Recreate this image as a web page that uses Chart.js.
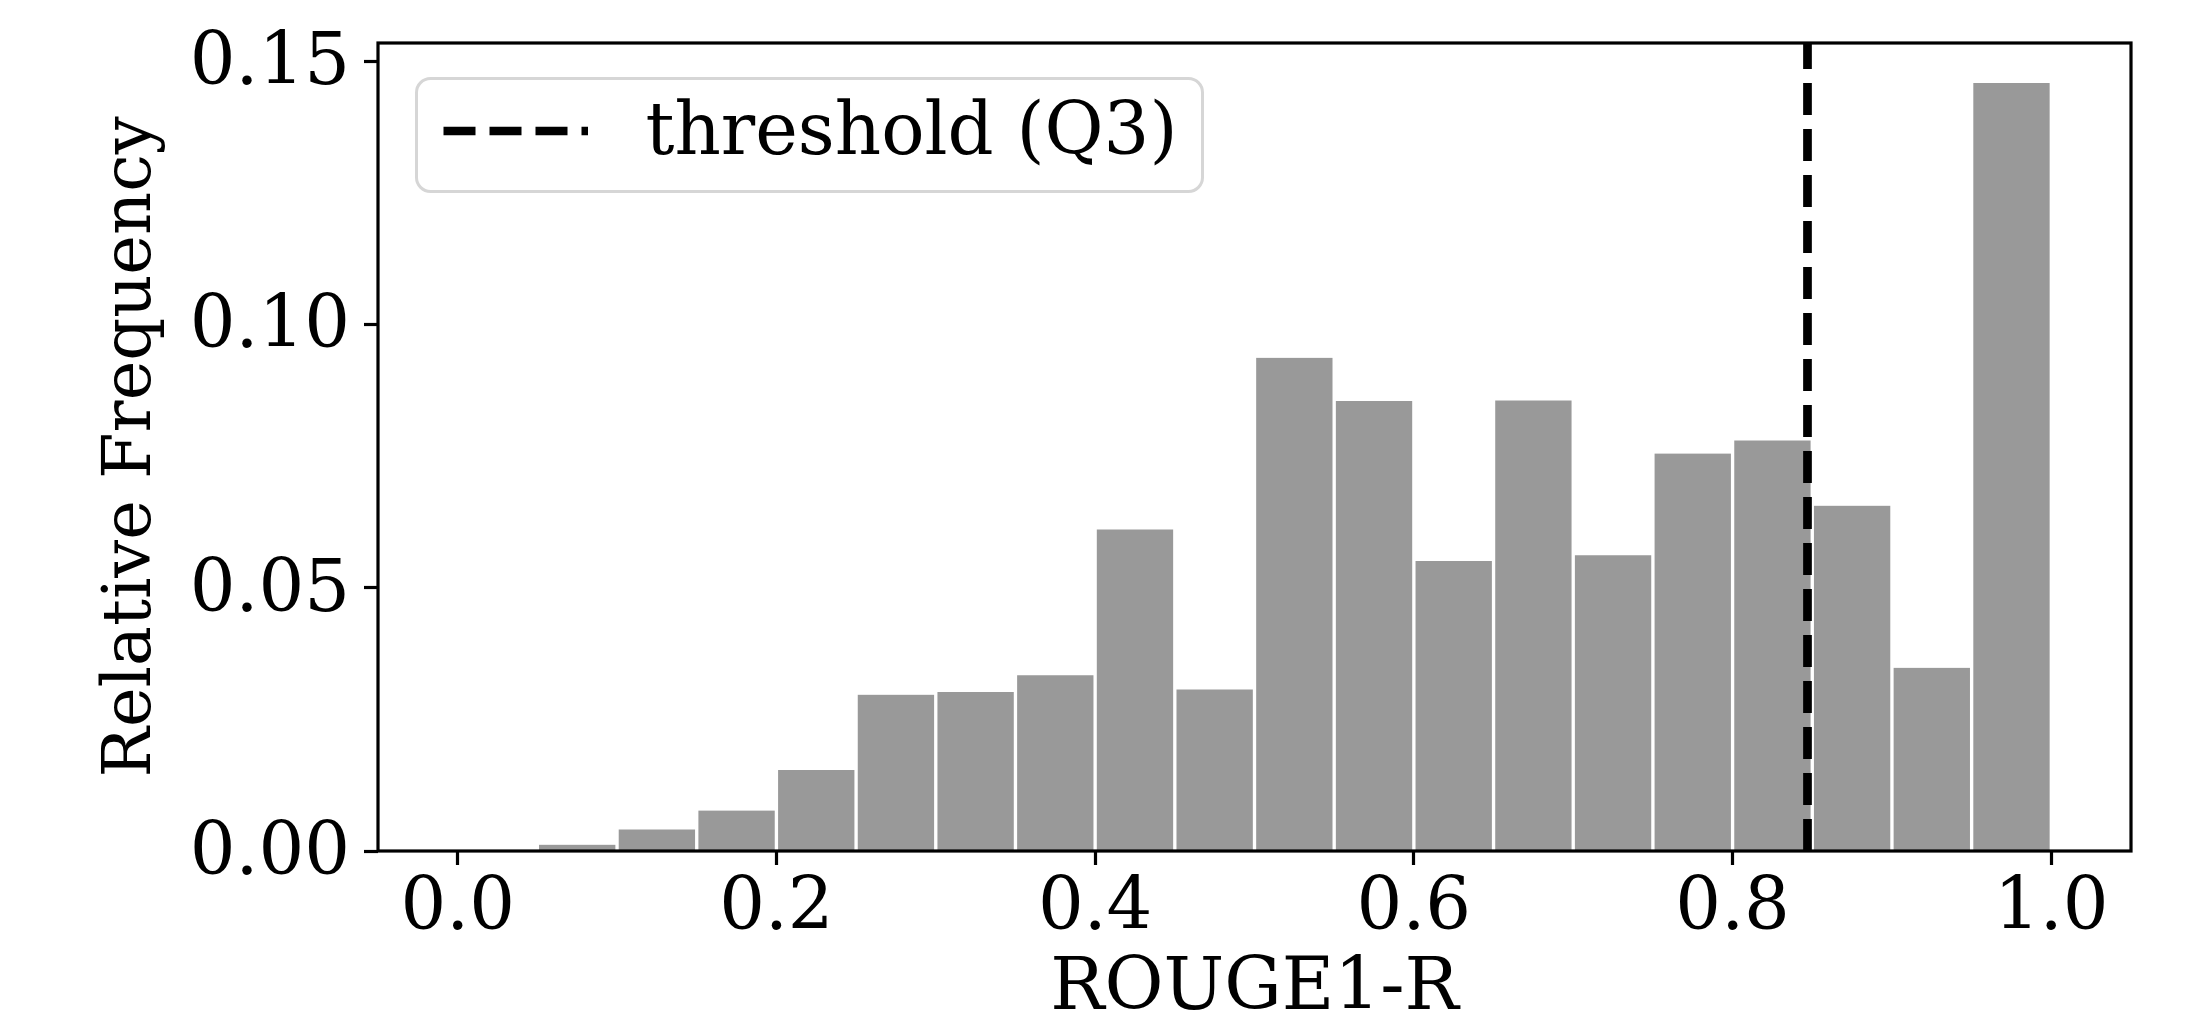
<!DOCTYPE html>
<html>
<head>
<meta charset="utf-8">
<title>ROUGE1-R relative frequency</title>
<script src="https://cdn.jsdelivr.net/npm/chart.js@4.4.1/dist/chart.umd.min.js"></script>
<style>
  html, body { margin: 0; padding: 0; background: #fff; }
  canvas { display: block; }
</style>
</head>
<body>
<canvas id="chart" width="2194" height="1024"></canvas>
<script>
// histogram bins (width 0.05)
var binCenters = [0.025, 0.075, 0.125, 0.175, 0.225, 0.275, 0.325, 0.375, 0.425, 0.475,
                  0.525, 0.575, 0.625, 0.675, 0.725, 0.775, 0.825, 0.875, 0.925, 0.975];
var frequencies = [0, 0.0012, 0.0041, 0.0077, 0.0154, 0.0297, 0.0302, 0.0334, 0.0611, 0.0307,
                   0.0937, 0.0855, 0.0551, 0.0856, 0.0562, 0.0755, 0.0780, 0.0656, 0.0348, 0.1459];
var threshold = 0.847;
var xTicks = [0, 0.2, 0.4, 0.6, 0.8, 1.0];
var yTicks = [0, 0.05, 0.10, 0.15];

var FONT = "DejaVu Serif";
var FS = 72;
var yMax = 0.1535;

var framePlugin = {
  id: "frame",
  afterDraw: function(chart) {
    var a = chart.chartArea;
    var c = chart.ctx;
    c.save();
    c.strokeStyle = "#000";
    c.lineWidth = 3.2;
    c.strokeRect(a.left, a.top, a.right - a.left, a.bottom - a.top);

    // legend box, matplotlib style
    var bx = a.left + 38.5, by = a.top + 35.5, bw = 786, bh = 113, r = 14;
    c.beginPath();
    c.moveTo(bx + r, by);
    c.lineTo(bx + bw - r, by);
    c.arcTo(bx + bw, by, bx + bw, by + r, r);
    c.lineTo(bx + bw, by + bh - r);
    c.arcTo(bx + bw, by + bh, bx + bw - r, by + bh, r);
    c.lineTo(bx + r, by + bh);
    c.arcTo(bx, by + bh, bx, by + bh - r, r);
    c.lineTo(bx, by + r);
    c.arcTo(bx, by, bx + r, by, r);
    c.closePath();
    c.fillStyle = "rgba(255,255,255,0.8)";
    c.fill();
    c.strokeStyle = "#d6d6d6";
    c.lineWidth = 3;
    c.stroke();

    var ds = chart.data.datasets[0];
    var ly = by + 52.5;
    c.beginPath();
    c.setLineDash(ds.borderDash);
    c.lineWidth = ds.borderWidth;
    c.strokeStyle = ds.borderColor;
    c.moveTo(bx + 27, ly);
    c.lineTo(bx + 171.5, ly);
    c.stroke();
    c.setLineDash([]);

    c.fillStyle = "#000";
    c.font = FS + "px '" + FONT + "'";
    c.textAlign = "left";
    c.textBaseline = "alphabetic";
    c.fillText(ds.label, bx + 229, by + 75);
    c.restore();
  }
};

var barData = binCenters.map(function(x, i) { return { x: x, y: frequencies[i] }; });

new Chart(document.getElementById("chart").getContext("2d"), {
  type: "bar",
  data: {
    datasets: [
      {
        type: "line",
        label: "threshold (Q3)",
        data: [{ x: threshold, y: 0 }, { x: threshold, y: yMax }],
        borderColor: "#000",
        borderWidth: 8.7,
        borderDash: [32, 14],
        borderCapStyle: "butt",
        pointRadius: 0,
        fill: false,
        order: 0
      },
      {
        label: "ROUGE1-R",
        data: barData,
        backgroundColor: "#999999",
        borderColor: "#ffffff",
        borderWidth: { top: 0, left: 2, right: 2, bottom: 0 },
        borderSkipped: false,
        barPercentage: 1,
        categoryPercentage: 1,
        order: 1
      }
    ]
  },
  plugins: [framePlugin],
  options: {
    responsive: false,
    animation: false,
    devicePixelRatio: 1,
    layout: { padding: { left: 0, right: 63, top: 43, bottom: 0 } },
    plugins: {
      legend: { display: false },
      tooltip: { enabled: false }
    },
    scales: {
      x: {
        type: "linear",
        min: -0.05,
        max: 1.05,
        offset: false,
        afterBuildTicks: function(s) { s.ticks = xTicks.map(function(v) { return { value: v }; }); },
        afterFit: function(s) {
          s.height = 173;
          s.paddingLeft = 0;
          s.paddingRight = 0;
        },
        grid: { display: true, drawOnChartArea: false, drawTicks: true, tickLength: 14, tickWidth: 3.2, tickColor: "#000", offset: false },
        border: { display: false },
        ticks: {
          font: { family: FONT, size: FS },
          color: "#000",
          padding: 2,
          maxRotation: 0,
          autoSkip: false,
          callback: function(v) { return Number(v).toFixed(1); }
        },
        title: { display: true, text: "ROUGE1-R", color: "#000", font: { family: FONT, size: FS, lineHeight: 0.936 }, padding: 0 }
      },
      y: {
        min: 0,
        max: yMax,
        afterBuildTicks: function(s) { s.ticks = yTicks.map(function(v) { return { value: v }; }); },
        afterFit: function(s) {
          s.width = 378;
          s.paddingTop = 0;
          s.paddingBottom = 0;
        },
        grid: { display: true, drawOnChartArea: false, drawTicks: true, tickLength: 14, tickWidth: 3.2, tickColor: "#000" },
        border: { display: false },
        ticks: {
          font: { family: FONT, size: FS },
          color: "#000",
          padding: 14,
          labelOffset: 4,
          callback: function(v) { return Number(v).toFixed(2); }
        },
        title: { display: true, text: "Relative Frequency", color: "#000", font: { family: FONT, size: 67 }, padding: { top: 92, bottom: 0 } }
      }
    }
  }
});
</script>
</body>
</html>
